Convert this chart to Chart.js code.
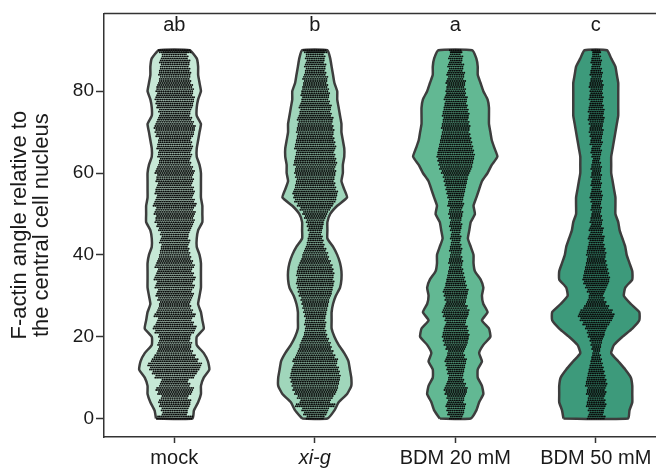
<!DOCTYPE html>
<html>
<head>
<meta charset="utf-8">
<script src="https://cdn.jsdelivr.net/npm/chart.js@4"></script>
<style>
  html, body { margin: 0; padding: 0; overflow: hidden; background: #fff; }
  #wrap { width: 680px; height: 476px; }
</style>
</head>
<body>
<div id="wrap"><canvas id="violinChart"></canvas></div>
<script>
// groups and labels
const categories = ['mock', 'xi-g', 'BDM 20 mM', 'BDM 50 mM'];
const letters = ['ab', 'b', 'a', 'c'];
const yTicks = [0, 20, 40, 60, 80];

// violin outline: angle levels and half width (in category units) at each level
const densityY = [0, 2, 4, 6, 8, 10, 12, 14, 16, 18, 20, 22, 24, 26, 28, 30, 32, 34, 36, 38, 40, 42, 44,
  46, 48, 50, 52, 54, 56, 58, 60, 62, 64, 66, 68, 70, 72, 74, 76, 78, 80, 82, 84, 86, 88, 90];
const halfMock = [0.13, 0.14, 0.17, 0.19, 0.19, 0.21, 0.25, 0.24, 0.21, 0.16, 0.16, 0.21, 0.20, 0.19, 0.17, 0.18,
  0.19, 0.19, 0.19, 0.19, 0.18, 0.16, 0.16, 0.17, 0.20, 0.20, 0.20, 0.19, 0.19, 0.19, 0.19, 0.18, 0.16, 0.16,
  0.17, 0.18, 0.19, 0.16, 0.16, 0.17, 0.19, 0.18, 0.17, 0.17, 0.16, 0.11];
const halfXig = [0.09, 0.14, 0.17, 0.23, 0.26, 0.26, 0.25, 0.24, 0.21, 0.17, 0.14, 0.12, 0.12, 0.12, 0.13, 0.15,
  0.18, 0.19, 0.19, 0.18, 0.16, 0.13, 0.09, 0.09, 0.09, 0.11, 0.16, 0.23, 0.21, 0.19, 0.20, 0.20, 0.21, 0.21,
  0.20, 0.19, 0.19, 0.18, 0.17, 0.16, 0.16, 0.14, 0.13, 0.12, 0.11, 0.09];
const halfBdm20 = [0.11, 0.15, 0.17, 0.20, 0.19, 0.16, 0.16, 0.19, 0.17, 0.20, 0.25, 0.24, 0.19, 0.23, 0.20, 0.19,
  0.20, 0.18, 0.14, 0.13, 0.13, 0.11, 0.09, 0.10, 0.11, 0.14, 0.13, 0.15, 0.17, 0.19, 0.23, 0.26, 0.30, 0.28,
  0.26, 0.25, 0.24, 0.24, 0.24, 0.23, 0.20, 0.18, 0.16, 0.16, 0.15, 0.12];
const halfBdm50 = [0.23, 0.24, 0.26, 0.26, 0.26, 0.25, 0.21, 0.16, 0.11, 0.13, 0.19, 0.26, 0.31, 0.31, 0.25, 0.20,
  0.21, 0.26, 0.26, 0.24, 0.22, 0.21, 0.19, 0.17, 0.16, 0.14, 0.14, 0.14, 0.13, 0.12, 0.11, 0.11, 0.11, 0.12,
  0.13, 0.14, 0.15, 0.16, 0.16, 0.16, 0.16, 0.16, 0.15, 0.14, 0.11, 0.08];

// number of measured points at each degree 0..90
const dotsMock = [40, 28, 30, 34, 36, 30, 38, 42, 34, 30, 44, 50, 56, 60, 52, 46, 40, 36, 38, 34,
  36, 44, 48, 42, 38, 46, 40, 36, 34, 38, 42, 38, 44, 40, 46, 42, 38, 44, 40, 36,
  34, 32, 30, 34, 30, 32, 36, 40, 44, 42, 46, 42, 48, 44, 40, 44, 42, 38, 42, 40,
  44, 40, 36, 34, 38, 36, 40, 38, 36, 42, 44, 46, 42, 38, 34, 36, 40, 42, 44, 40,
  42, 40, 36, 34, 36, 34, 32, 34, 30, 28, 36];
const dotsXig = [20, 26, 30, 44, 34, 40, 46, 50, 52, 54, 56, 54, 52, 48, 50, 44, 40, 36, 34, 30,
  26, 24, 22, 24, 22, 24, 26, 28, 30, 32, 36, 38, 40, 42, 40, 42, 40, 38, 34, 30,
  28, 24, 20, 18, 16, 14, 16, 18, 20, 24, 28, 34, 40, 46, 48, 50, 46, 44, 42, 44,
  46, 44, 48, 46, 44, 42, 46, 44, 42, 40, 42, 40, 38, 40, 36, 34, 36, 32, 30, 32,
  30, 28, 26, 28, 24, 22, 24, 20, 22, 20, 26];
const dotsBdm20 = [14, 18, 20, 22, 18, 20, 24, 26, 22, 18, 16, 18, 20, 22, 24, 20, 18, 22, 26, 28,
  30, 28, 26, 22, 24, 28, 30, 26, 22, 24, 26, 28, 24, 22, 20, 18, 16, 14, 16, 14,
  12, 14, 12, 10, 12, 10, 12, 14, 12, 14, 16, 14, 18, 16, 18, 20, 22, 24, 26, 28,
  32, 36, 38, 40, 42, 40, 38, 36, 34, 32, 30, 32, 30, 28, 30, 28, 26, 24, 26, 22,
  22, 20, 22, 18, 20, 16, 18, 14, 16, 12, 14];
const dotsBdm50 = [20, 16, 18, 22, 20, 18, 22, 20, 24, 22, 20, 18, 16, 14, 12, 10, 8, 10, 12, 14,
  18, 20, 24, 30, 36, 40, 36, 28, 22, 18, 16, 20, 24, 28, 30, 28, 26, 24, 22, 20,
  22, 20, 18, 16, 18, 14, 16, 12, 14, 12, 10, 12, 10, 12, 14, 12, 10, 12, 10, 12,
  10, 12, 10, 8, 10, 12, 10, 14, 12, 14, 16, 14, 16, 18, 16, 18, 16, 14, 16, 14,
  14, 16, 14, 12, 14, 12, 10, 12, 10, 8, 10];

const halfWidths = [halfMock, halfXig, halfBdm20, halfBdm50];
const dotCounts = [dotsMock, dotsXig, dotsBdm20, dotsBdm50];
const violinColors = ['#c6e8d6', '#a0d6bb', '#62b893', '#3d9a7b'];

// closed outline: up the left side, down the right side
function violinPoints(center, half) {
  const left = densityY.map((v, k) => ({ x: center - half[k], y: v }));
  const right = densityY.map((v, k) => ({ x: center + half[k], y: v })).reverse();
  return left.concat(right, [left[0]]);
}

const datasets = categories.map((name, i) => ({
  label: name,
  data: violinPoints(i + 1, halfWidths[i]),
  showLine: true,
  fill: 'shape',
  backgroundColor: violinColors[i],
  borderColor: '#3d3d3d',
  borderWidth: 2.5,
  pointRadius: 0,
  tension: 0.15,
}));

const fontFamily = '"Liberation Sans", Arial, sans-serif';

// beeswarm dots + significance letters + frame
const swarmPlugin = {
  id: 'swarm',
  afterDatasetsDraw(chart) {
    const ctx = chart.ctx;
    const xs = chart.scales.x;
    const ys = chart.scales.y;
    ctx.save();
    ctx.fillStyle = '#0a0a0a';
    const dx = 1.8;
    dotCounts.forEach((counts, i) => {
      const cx = xs.getPixelForValue(i + 1);
      counts.forEach((n, deg) => {
        const rows = [Math.ceil(n / 2), Math.floor(n / 2)];
        rows.forEach((k, r) => {
          const v = deg === 90 ? deg - r * 0.5 : deg + r * 0.5;
          const py = ys.getPixelForValue(v);
          for (let j = 0; j < k; j++) {
            const px = cx + (j - (k - 1) / 2) * dx + (r ? 0.9 : 0);
            ctx.beginPath();
            ctx.arc(px, py, 0.95, 0, Math.PI * 2);
            ctx.fill();
          }
        });
      });
    });
    ctx.fillStyle = '#1a1a1a';
    ctx.font = '20px ' + fontFamily;
    ctx.textAlign = 'center';
    ctx.textBaseline = 'middle';
    letters.forEach((t, i) => {
      ctx.fillText(t, xs.getPixelForValue(i + 1), ys.getPixelForValue(96));
    });
    const a = chart.chartArea;
    ctx.strokeStyle = '#333';
    ctx.lineWidth = 1.5;
    ctx.beginPath();
    ctx.moveTo(a.left, a.top);
    ctx.lineTo(a.right, a.top);
    ctx.lineTo(a.right, a.bottom);
    ctx.stroke();
    ctx.restore();
  },
};

new Chart(document.getElementById('violinChart').getContext('2d'), {
  type: 'scatter',
  data: { datasets: datasets },
  options: {
    responsive: true,
    maintainAspectRatio: false,
    animation: false,
    layout: { padding: { left: 0, right: 14, top: 5, bottom: 0 } },
    plugins: { legend: { display: false }, tooltip: { enabled: false } },
    scales: {
      x: {
        type: 'linear',
        min: 0.5,
        max: 4.5,
        afterBuildTicks: (s) => { s.ticks = categories.map((c, i) => ({ value: i + 1 })); },
        afterFit: (s) => { s.height = 39; },
        grid: { drawOnChartArea: false, drawTicks: true, tickLength: 6, tickColor: '#333', tickWidth: 1.5 },
        border: { color: '#333', width: 1.5 },
        ticks: {
          color: '#1a1a1a',
          padding: 3,
          maxRotation: 0,
          font: (c) => ({ family: fontFamily, size: 20, style: c.index === 1 ? 'italic' : 'normal' }),
          callback: (v, idx) => categories[idx],
        },
      },
      y: {
        min: -4.5,
        max: 99,
        afterBuildTicks: (s) => { s.ticks = yTicks.map((v) => ({ value: v })); },
        afterFit: (s) => { s.width = 104; },
        grid: { drawOnChartArea: false, drawTicks: true, tickLength: 8, tickColor: '#333', tickWidth: 1.5 },
        border: { color: '#333', width: 1.5 },
        ticks: { color: '#1a1a1a', padding: 2, font: { family: fontFamily, size: 19 } },
        title: {
          display: true,
          text: ['F-actin angle relative to', 'the central cell nucleus'],
          color: '#1a1a1a',
          font: { family: fontFamily, size: 22, lineHeight: 1.0 },
          padding: { top: 9, bottom: 0 },
        },
      },
    },
  },
  plugins: [swarmPlugin],
});
</script>
</body>
</html>
